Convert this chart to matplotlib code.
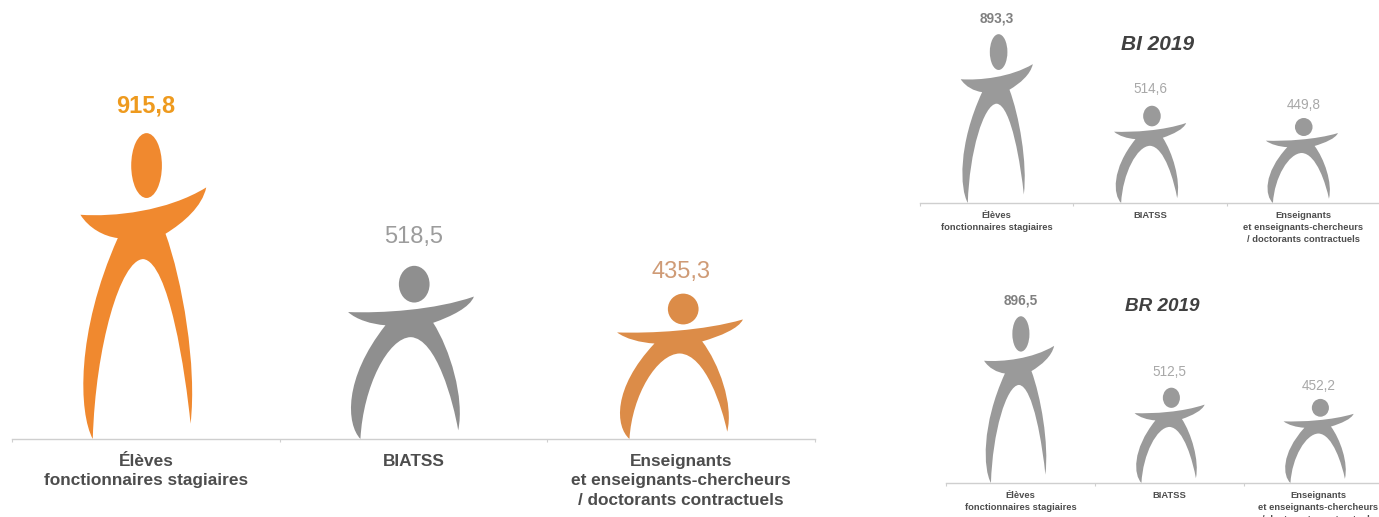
import matplotlib
matplotlib.use("Agg")
import numpy as np
import matplotlib.pyplot as plt
from matplotlib.path import Path
from matplotlib.patches import PathPatch, Ellipse

W, H = 1379, 517

plt.rcParams['font.family'] = ['Liberation Sans', 'DejaVu Sans']

categories = ["Élèves\nfonctionnaires stagiaires", "BIATSS",
              "Enseignants\net enseignants-chercheurs\n/ doctorants contractuels"]
values_2018 = [915.8, 518.5, 435.3]
values_bi = [893.3, 514.6, 449.8]
values_br = [896.5, 512.5, 452.2]
labels_2018 = ["915,8", "518,5", "435,3"]
labels_bi = ["893,3", "514,6", "449,8"]
labels_br = ["896,5", "512,5", "452,2"]

# outline of the little man, traced from the big one, then normalised below
foot_y = 1078
head_top_y = 160
mid_x = 428
arm_span = 377
body_pts = [(240, 405),
            (340, 412), (500, 395), (617, 323),
            (605, 380), (550, 428), (495, 462),
            (545, 600), (590, 860), (570, 1032),
            (555, 880), (505, 545), (428, 538),
            (360, 540), (285, 800), (277, 1078),
            (235, 1000), (225, 760), (352, 475),
            (310, 470), (265, 445), (240, 405)]
body = np.array(body_pts, dtype=float)
body_u = (body[:, 0] - mid_x) / arm_span
body_v = (foot_y - body[:, 1]) / (foot_y - head_top_y)
body_codes = [Path.MOVETO] + [Path.CURVE4] * (len(body_pts) - 1)


def draw_person(ax, x, value, color):
    # width stays fixed, only the height follows the value
    span = 0.47
    verts = np.column_stack([x + body_u * span, body_v * value])
    ax.add_patch(PathPatch(Path(verts, body_codes), fc=color, ec='none'))
    ax.add_patch(Ellipse((x + 0.027 * span, 0.894 * value), 0.244 * span,
                         0.212 * value, fc=color, ec='none'))


def panel(left, right, base, px_per_unit, ymax, values, labels, colors,
          label_colors, gaps, val_size, cat_size, pad, spacing, weights,
          centers):
    ax = plt.axes([left / W, 1 - base / H, (right - left) / W,
                   ymax * px_per_unit / H])
    ax.patch.set_alpha(0)
    ax.set_xlim(0, 3)
    ax.set_ylim(0, ymax)
    for s in ['left', 'right', 'top']:
        ax.spines[s].set_visible(False)
    ax.spines['bottom'].set_color('#cfcfcf')
    ax.spines['bottom'].set_linewidth(1)
    ax.set_yticks([])
    ax.set_xticks([0, 1, 2, 3], ['', '', '', ''])
    ax.tick_params(axis='x', which='major', length=2, color='#cfcfcf')
    ax.set_xticks([0.5, 1.5, 2.5], categories, minor=True)
    ax.tick_params(axis='x', which='minor', length=0, pad=pad,
                   labelsize=cat_size, labelcolor='#4d4d4d')
    for t in ax.get_xticklabels(minor=True):
        t.set_fontweight('bold')
        t.set_linespacing(spacing)
    for i, v in enumerate(values):
        draw_person(ax, centers[i], v, colors[i])
        ax.annotate(labels[i], (i + 0.5, v), xytext=(0, gaps[i]),
                    textcoords='offset points', ha='center', va='center',
                    fontsize=val_size, color=label_colors[i],
                    fontweight=weights[i])
    return ax


fig = plt.figure(figsize=(W / 100, H / 100), dpi=100)

panel(12, 815, 439, 0.334, 1100, values_2018, labels_2018,
      ['#F0892F', '#8F8F8F', '#DC8C48'], ['#EE9A1E', '#9C9C9C', '#CF9B76'],
      [19.5, 20.5, 15.5], 17, 12.4, 10.5, 1.4,
      ['bold', 'normal', 'normal'], [0.49, 1.49, 2.495])

ax_bi = panel(920, 1380, 203, 0.189, 1050, values_bi, labels_bi,
              ['#9A9A9A'] * 3, ['#808080', '#A8A8A8', '#A8A8A8'],
              [11.5, 12, 9.5], 9.8, 6.76, 6, 1.39,
              ['bold', 'normal', 'normal'], [0.5, 1.5, 2.49])
ax_bi.text(1.55, 841, "BI 2019", ha='center', va='center', fontsize=15,
           fontweight='bold', fontstyle='italic', color='#404040')

ax_br = panel(946, 1393, 483, 0.186, 1000, values_br, labels_br,
              ['#9A9A9A'] * 3, ['#808080', '#A8A8A8', '#A8A8A8'],
              [11.5, 11.5, 9.5], 9.8, 6.76, 6, 1.39,
              ['bold', 'normal', 'normal'], [0.49, 1.5, 2.5])
ax_br.text(1.45, 947, "BR 2019", ha='center', va='center', fontsize=13.6,
           fontweight='bold', fontstyle='italic', color='#404040')

fig.savefig('out.png', dpi=100, facecolor='white')
